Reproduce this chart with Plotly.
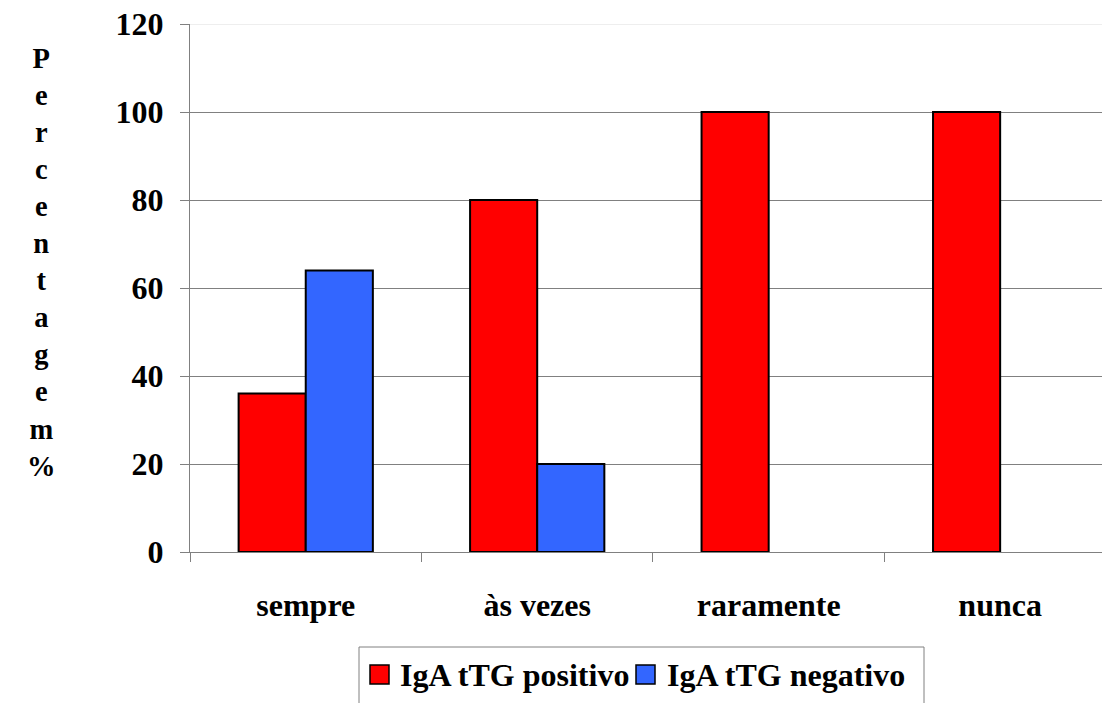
import plotly.graph_objects as go

# Survey answers and share of patients per IgA tTG result
categories = ["sempre", "às vezes", "raramente", "nunca"]
positivo = [36, 80, 100, 100]
negativo = [64, 20, None, None]
y_ticks = [0, 20, 40, 60, 80, 100, 120]
series_names = ["IgA tTG positivo", "IgA tTG negativo"]
series_colors = ["#ff0000", "#3366ff"]

FAMILY = "Liberation Serif"
FONT = dict(family=FAMILY, size=32, color="black")

# page geometry (pixels) used to place the hand-built legend and title
W, H = 1102, 703
ML, MR, MT, MB = 190, 0, 24, 151
PW, PH = W - ML - MR, H - MT - MB


def px(xp):
    return (xp - ML) / PW


def py(yp):
    return (H - MB - yp) / PH


def bold(s):
    return f"<b>{s}</b>"


fig = go.Figure()
for name, vals, col in zip(series_names, [positivo, negativo], series_colors):
    fig.add_trace(go.Bar(
        x=categories, y=vals, name=name, showlegend=False,
        marker=dict(color=col, line=dict(color="black", width=2)),
    ))

fig.update_layout(
    width=W, height=H,
    margin=dict(l=ML, r=MR, t=MT, b=MB),
    paper_bgcolor="white", plot_bgcolor="white",
    font=FONT,
    barmode="group", bargap=0.42, bargroupgap=0,
)

fig.update_xaxes(
    type="category", range=[-0.5, 3.44],
    tickvals=categories, ticktext=[bold(c) for c in categories],
    tickson="boundaries", ticks="outside", ticklen=9, tickcolor="#808080",
    showline=True, linecolor="#808080", linewidth=1,
    showgrid=False, tickfont=FONT, ticklabelstandoff=25,
)
fig.update_yaxes(
    range=[0, 120], tickvals=y_ticks, ticktext=[bold(v) for v in y_ticks],
    ticks="outside", ticklen=9, tickcolor="#808080",
    showline=True, linecolor="#808080", linewidth=1,
    showgrid=True, gridcolor="#808080", gridwidth=1,
    zeroline=False, tickfont=FONT, ticklabelstandoff=10,
)

# the top gridline is drawn faint
fig.add_shape(type="line", xref="paper", yref="y", x0=0, x1=1, y0=120, y1=120,
              line=dict(color="#eeeeee", width=2), layer="above")

# legend box below the axis
fig.add_shape(type="rect", xref="paper", yref="paper",
              x0=px(359), x1=px(924), y0=py(720), y1=py(647),
              line=dict(color="#808080", width=1), fillcolor="white", layer="above")
legend_items = [(370, 398), (636, 665)]
for (sx, tx), name, col in zip(legend_items, series_names, series_colors):
    fig.add_shape(type="rect", xref="paper", yref="paper",
                  x0=px(sx), x1=px(sx + 19), y0=py(684), y1=py(665),
                  line=dict(color="black", width=1.5), fillcolor=col, layer="above")
    fig.add_annotation(text=bold(name), xref="paper", yref="paper",
                       x=px(tx), y=py(675), xanchor="left", yanchor="middle",
                       showarrow=False, font=FONT)

# vertical, letter-stacked axis title
title = "Percentagem%"
fig.add_annotation(
    text=bold("<br>".join(title)), xref="paper", yref="paper",
    x=px(41), y=py(262), xanchor="center", yanchor="middle", showarrow=False,
    font=dict(family=FAMILY, size=28.5, color="black"),
    align="center",
)

fig.write_html("out.html")
